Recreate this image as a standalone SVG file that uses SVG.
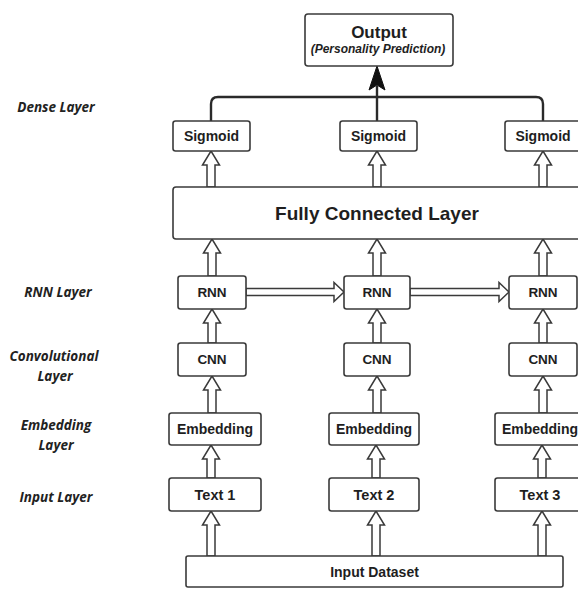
<svg xmlns="http://www.w3.org/2000/svg" width="578" height="589" viewBox="0 0 578 589">
<style>
.box{fill:#fff;stroke:#3a3a3a;stroke-width:1.6}
.t{font-family:"Liberation Sans",Arial,sans-serif;font-weight:bold;fill:#1e1e1e;text-anchor:middle}
.lbl{font-family:"Open Sans","Liberation Sans",sans-serif;font-weight:bold;font-style:italic;font-size:13.5px;fill:#222;text-anchor:middle}
.ha{fill:#fff;stroke:#3a3a3a;stroke-width:1.5;stroke-linejoin:miter}
.ln{fill:none;stroke:#2a2a2a;stroke-width:2.4}
</style>
<rect width="578" height="589" fill="#fff"/>

<g id="labels">
<text class="lbl" x="56" y="112">Dense Layer</text>
<text class="lbl" x="58" y="297">RNN Layer</text>
<text class="lbl" x="54" y="361">Convolutional</text>
<text class="lbl" x="55" y="381">Layer</text>
<text class="lbl" x="56" y="430">Embedding</text>
<text class="lbl" x="56" y="450">Layer</text>
<text class="lbl" x="56" y="502">Input Layer</text>
</g>

<g id="connectors">
<path class="ln" d="M211,121 V104 Q211,97 218,97 H536 Q543,97 543,104 V121"/>
<path class="ln" d="M377,121 V86"/>
<path d="M377,66 L385,90 L377,85 L369,90 Z" fill="#111" stroke="#111" stroke-width="1"/>
<!-- Input Dataset -> Text -->
<polygon class="ha" points="207,556 207,525 202.5,525 211,511 219.5,525 215,525 215,556"/>
<polygon class="ha" points="372,556 372,525 367.5,525 376,511 384.5,525 380,525 380,556"/>
<polygon class="ha" points="538,556 538,525 533.5,525 542,511 550.5,525 546,525 546,556"/>
<!-- Text -> Embedding -->
<polygon class="ha" points="207,478 207,459 202.5,459 211,445 219.5,459 215,459 215,478"/>
<polygon class="ha" points="372,478 372,459 367.5,459 376,445 384.5,459 380,459 380,478"/>
<polygon class="ha" points="538,478 538,459 533.5,459 542,445 550.5,459 546,459 546,478"/>
<!-- Embedding -> CNN -->
<polygon class="ha" points="208,413 208,390 203.5,390 212,376 220.5,390 216,390 216,413"/>
<polygon class="ha" points="373,413 373,390 368.5,390 377,376 385.5,390 381,390 381,413"/>
<polygon class="ha" points="539,413 539,390 534.5,390 543,376 551.5,390 547,390 547,413"/>
<!-- CNN -> RNN -->
<polygon class="ha" points="208,343 208,323 203.5,323 212,309 220.5,323 216,323 216,343"/>
<polygon class="ha" points="373,343 373,323 368.5,323 377,309 385.5,323 381,323 381,343"/>
<polygon class="ha" points="539,343 539,323 534.5,323 543,309 551.5,323 547,323 547,343"/>
<!-- RNN -> FC -->
<polygon class="ha" points="208,276 208,253 203.5,253 212,239 220.5,253 216,253 216,276"/>
<polygon class="ha" points="373,276 373,253 368.5,253 377,239 385.5,253 381,253 381,276"/>
<polygon class="ha" points="539,276 539,253 534.5,253 543,239 551.5,253 547,253 547,276"/>
<!-- FC -> Sigmoid -->
<polygon class="ha" points="207,187 207,165 202.5,165 211,151 219.5,165 215,165 215,187"/>
<polygon class="ha" points="373,187 373,165 368.5,165 377,151 385.5,165 381,165 381,187"/>
<polygon class="ha" points="539,187 539,165 534.5,165 543,151 551.5,165 547,165 547,187"/>
<!-- RNN -> RNN -->
<polygon class="ha" points="246,288.5 334,288.5 334,282.5 344,292 334,301.5 334,295.5 246,295.5"/>
<polygon class="ha" points="410,288.5 499,288.5 499,282.5 509,292 499,301.5 499,295.5 410,295.5"/>
</g>

<g id="output">
<rect class="box" x="305" y="14" width="148" height="52" rx="3"/>
<text class="t" x="379" y="38" font-size="17">Output</text>
<text class="t" x="378" y="53" font-size="12" font-style="italic" fill="#333">(Personality Prediction)</text>
</g>

<g id="sigmoid1"><rect class="box" x="173" y="121" width="77" height="30" rx="2.5"/><text class="t" x="211.5" y="140.5" font-size="14">Sigmoid</text></g>
<g id="sigmoid2"><rect class="box" x="340" y="121" width="77" height="30" rx="2.5"/><text class="t" x="378.5" y="140.5" font-size="14">Sigmoid</text></g>
<g id="sigmoid3"><rect class="box" x="505" y="121" width="80" height="30" rx="2.5"/><text class="t" x="543" y="140.5" font-size="14">Sigmoid</text></g>

<g id="fc"><rect class="box" x="173" y="187" width="420" height="52" rx="3"/><text class="t" x="377" y="220" font-size="19">Fully Connected Layer</text></g>

<g id="rnn1"><rect class="box" x="178" y="276" width="68" height="33" rx="2.5"/><text class="t" x="212" y="297" font-size="13.5">RNN</text></g>
<g id="rnn2"><rect class="box" x="344" y="276" width="66" height="33" rx="2.5"/><text class="t" x="377" y="297" font-size="13.5">RNN</text></g>
<g id="rnn3"><rect class="box" x="509" y="276" width="68" height="33" rx="2.5"/><text class="t" x="543" y="297" font-size="13.5">RNN</text></g>

<g id="cnn1"><rect class="box" x="178" y="343" width="68" height="33" rx="2.5"/><text class="t" x="212" y="364" font-size="13.5">CNN</text></g>
<g id="cnn2"><rect class="box" x="344" y="343" width="66" height="33" rx="2.5"/><text class="t" x="377" y="364" font-size="13.5">CNN</text></g>
<g id="cnn3"><rect class="box" x="509" y="343" width="68" height="33" rx="2.5"/><text class="t" x="543" y="364" font-size="13.5">CNN</text></g>

<g id="emb1"><rect class="box" x="169" y="413" width="92" height="32" rx="2.5"/><text class="t" x="215" y="434" font-size="14">Embedding</text></g>
<g id="emb2"><rect class="box" x="329" y="413" width="90" height="32" rx="2.5"/><text class="t" x="374" y="434" font-size="14">Embedding</text></g>
<g id="emb3"><rect class="box" x="495" y="413" width="95" height="32" rx="2.5"/><text class="t" x="540" y="434" font-size="14">Embedding</text></g>

<g id="text1"><rect class="box" x="169" y="478" width="92" height="33" rx="2.5"/><text class="t" x="215" y="500" font-size="14.5">Text 1</text></g>
<g id="text2"><rect class="box" x="329" y="478" width="90" height="33" rx="2.5"/><text class="t" x="374" y="500" font-size="14.5">Text 2</text></g>
<g id="text3"><rect class="box" x="495" y="478" width="95" height="33" rx="2.5"/><text class="t" x="540" y="500" font-size="14.5">Text 3</text></g>

<g id="dataset"><rect class="box" x="186" y="556" width="377" height="31" rx="2"/><text class="t" x="374.5" y="577" font-size="14">Input Dataset</text></g>
</svg>
